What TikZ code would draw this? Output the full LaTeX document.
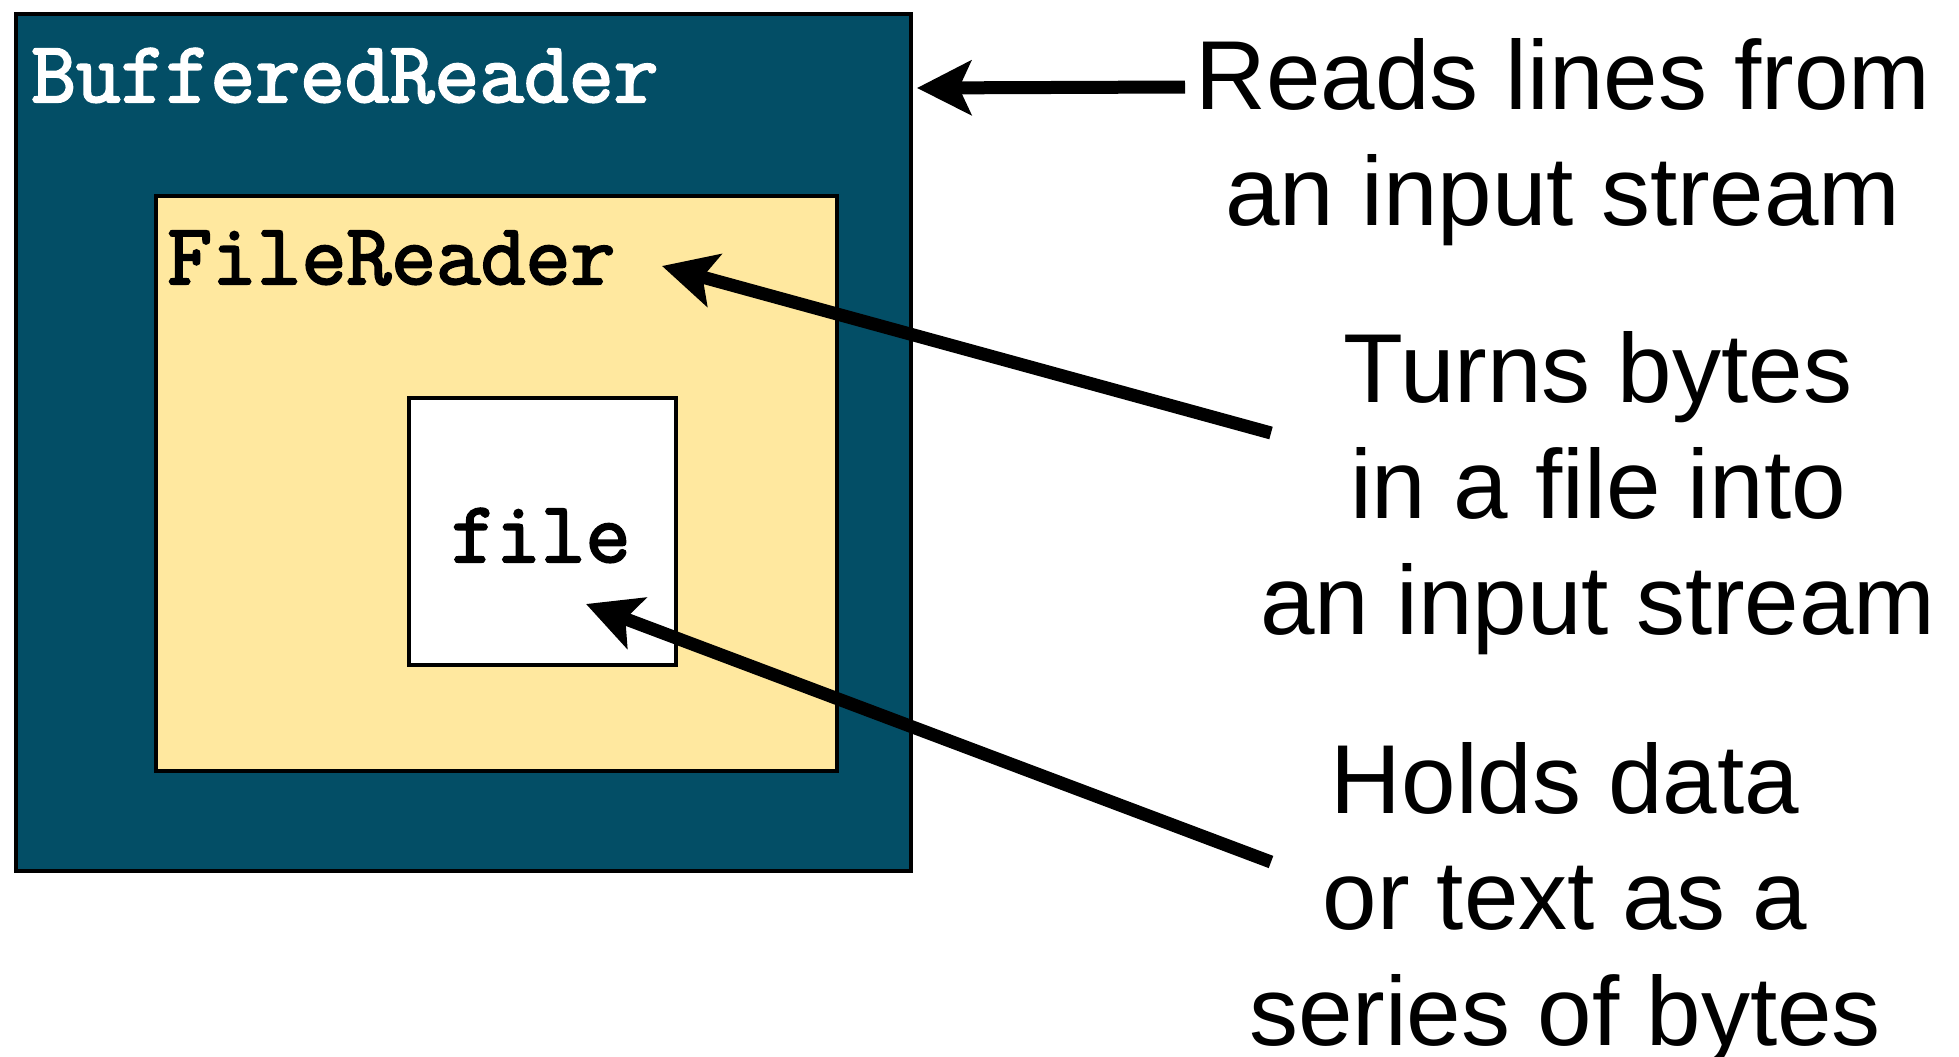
\documentclass[tikz,border=0pt]{standalone}
\usepackage{fontspec}
\setmainfont{Liberation Sans}
\newfontfamily\codefont[FakeBold=2.5]{Latin Modern Mono}
\usetikzlibrary{arrows.meta}
\definecolor{bufteal}{HTML}{034E66}
\definecolor{fryellow}{HTML}{FFE89F}
\tikzset{
  layerbox/.style={draw=black, line width=4pt, inner sep=0pt, rectangle},
  codelabel/.style={anchor=base west, inner sep=0pt, font=\codefont\fontsize{87}{87}\selectfont},
  note/.style={anchor=base, inner sep=0pt, align=center, font=\fontsize{98}{116}\selectfont},
  ptr/.style={line width=13pt, -{Stealth[length=54pt,width=54pt,inset=12pt]}}
}
\begin{document}
\begin{tikzpicture}[x=1pt,y=-1pt]
\useasboundingbox (0,0) rectangle (1959,1057);
\node[layerbox, fill=bufteal, minimum width=895pt, minimum height=856pt] (outer) at (463.5,442.5) {};
\node[layerbox, fill=fryellow, minimum width=681pt, minimum height=575pt] (mid) at (496.5,483.5) {};
\node[layerbox, fill=white, minimum width=267pt, minimum height=267pt] (inner) at (542.5,531.5) {};
\node[codelabel, text=white] (bufname) at (31,102) {BufferedReader};
\node[codelabel] (frname) at (167,284) {FileReader};
\node[codelabel] (filename) at (451,562) {file};
\node[note] (reads) at (1563,225) {Reads lines from\\an input stream};
\node[note] (turns) at (1598,634) {Turns bytes\\in a file into\\an input stream};
\node[note] (holds) at (1565,1045) {Holds data\\or text as a\\series of bytes};
\coordinate (t1) at (1185,87);
\coordinate (h1) at (917,88);
\coordinate (t2) at (1271,433);
\coordinate (h2) at (662,266);
\coordinate (t3) at (1271,862);
\coordinate (h3) at (586,604);
\draw[ptr] (t1) -- (h1);
\draw[ptr] (t2) -- (h2);
\draw[ptr] (t3) -- (h3);
\end{tikzpicture}
\end{document}
